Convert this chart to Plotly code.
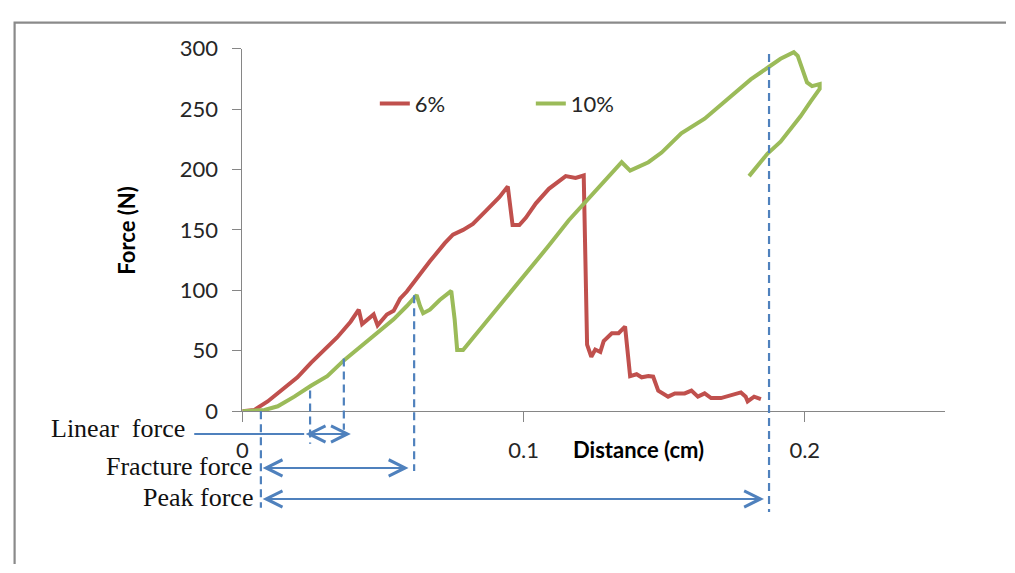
import plotly.graph_objects as go

# ---------------- data ----------------
dist_6 = [0, 0.0043, 0.009, 0.015, 0.0196, 0.0244, 0.029, 0.0337, 0.0385, 0.0414,
          0.0426, 0.0443, 0.0467, 0.0481, 0.0514, 0.0538, 0.0561, 0.0585, 0.062, 0.0667,
          0.072, 0.0749, 0.0785, 0.082, 0.0867, 0.0914, 0.0944, 0.0955, 0.0961, 0.0985,
          0.1008, 0.1044, 0.109, 0.115, 0.1185, 0.1214, 0.1222, 0.1226, 0.1241, 0.1255,
          0.1273, 0.1285, 0.1314, 0.1338, 0.1361, 0.1379, 0.1402, 0.1420, 0.1444, 0.1461,
          0.1479, 0.1514, 0.1538, 0.1573, 0.1597, 0.1620, 0.1644, 0.1667, 0.1702, 0.1738,
          0.1773, 0.1790, 0.1797, 0.1820, 0.1844]
force_6 = [0, 1, 8, 19, 28, 40, 50, 61, 74, 84,
           72, 75, 80, 71, 80, 83, 93, 99, 110, 124,
           139, 146, 150, 155, 166, 177, 186, 168, 154, 154,
           160, 172, 184, 194.5, 193, 195, 100, 55, 45, 51,
           49, 58, 64.5, 64.5, 70, 29, 30.5, 28, 29, 28.5,
           17, 12, 14.7, 14.7, 17, 12, 14.7, 10.8, 10.8, 13.4,
           15.5, 12, 8, 12, 10]

dist_10 = [0, 0.0079, 0.0126, 0.0185, 0.0244, 0.0302, 0.0361, 0.042, 0.0479, 0.0538,
           0.0585, 0.062, 0.0632, 0.0643, 0.0667, 0.0702, 0.0743, 0.0755, 0.0764, 0.0785,
           0.082, 0.0867, 0.0914, 0.0973, 0.1032, 0.109, 0.1161, 0.1232, 0.1303, 0.1349,
           0.1379, 0.1444, 0.1491, 0.1561, 0.1644, 0.1714, 0.1808, 0.1873, 0.1914, 0.1961,
           0.1975, 0.2008, 0.2026, 0.2053, 0.2053, 0.2020, 0.1985, 0.1914, 0.1867, 0.1802]
force_10 = [0, 1, 4, 12, 21, 29, 42, 53, 64.5, 76,
            87, 96, 87, 81, 84, 92, 99.5, 76, 50.6, 50.6,
            60.6, 74, 87, 103, 120, 137, 158, 176, 194.5, 206,
            199, 206, 214, 230, 242, 256, 274.5, 285, 291.6, 297,
            294, 272, 269, 270.6, 266.7, 256, 244, 223, 213, 194.5]

series_names = ["6%", "10%"]
x_ticks = [0, 0.1, 0.2]
y_ticks = [0, 50, 100, 150, 200, 250, 300]

# dashed guide lines (distance, top force, bottom force)
guide_x = [0.0066, 0.0241, 0.0361, 0.0611, 0.1873]
guide_top = [0, 17, 43.5, 96, 295.5]
guide_bottom = [-80, -27, -15.5, -49.6, -83.5]

# arrow annotations (label, label x, label y, arrow start, arrow end, arrow level)
labels = ["Linear\u00a0 force", "Fracture force", "Peak force"]
label_x = [-0.0195, 0.0045, 0.0045]
label_y = [-14.2, -45.5, -71.7]
arrow_from = [0.0220, 0.0067, 0.0067]
arrow_to = [0.0386, 0.0591, 0.1855]
arrow_level = [-18.9, -47.0, -72.7]
lead_from = -0.0171   # plain lead-in line for the "Linear force" arrow

# ---------------- layout geometry ----------------
# the page keeps the browser's default 8px body margin, so the figure is
# sized to fit the window exactly and all screen positions are offset by OFF
OFF = 8
SW, SH = 1015, 573                 # window size
W, H = SW - 2 * OFF - 1, SH - 2 * OFF - 1


def fx(px):                        # screen x pixel -> paper fraction
    return (px - OFF) / W


def fy(py):                        # screen y pixel -> paper fraction
    return 1 - (py - OFF) / H


PX0, PX1 = 237.7, 945.0     # screen pixels of x = 0 and x = 0.25
PY0, PY1 = 417.0, 36.0      # screen pixels of y = 0 and y = 300
XR, YR = [0, 0.25], [0, 300]
sx = (PX1 - PX0) / (XR[1] - XR[0])
sy = (PY0 - PY1) / (YR[1] - YR[0])
x2_range = [-(PX0 - OFF) / sx, (W + OFF - PX0) / sx]
y2_range = [-(H + OFF - PY0) / sy, (PY0 - OFF) / sy]

RED, GREEN, BLUE, GREY = "#c0504d", "#9bbb59", "#4f81bd", "#868686"
TXT = "#262626"
SANS = "Lato, 'Open Sans', sans-serif"
SERIF = "'Liberation Serif', 'Times New Roman', serif"

fig = go.Figure()
for name, xs, ys, col in [(series_names[0], dist_6, force_6, RED),
                          (series_names[1], dist_10, force_10, GREEN)]:
    fig.add_trace(go.Scatter(x=xs, y=ys, mode="lines", name=name,
                             line=dict(color=col, width=4),
                             xaxis="x", yaxis="y", hoverinfo="skip"))

shapes = []
for gx, gt, gb in zip(guide_x, guide_top, guide_bottom):
    shapes.append(dict(type="line", xref="x2", yref="y2", x0=gx, x1=gx, y0=gt, y1=gb,
                       line=dict(color=BLUE, width=2.2, dash="8px,5px")))
shapes.append(dict(type="line", xref="x2", yref="y2", x0=lead_from, x1=arrow_from[0],
                   y0=arrow_level[0], y1=arrow_level[0], line=dict(color=BLUE, width=2)))
# outer frame (left and top edges visible)
shapes.append(dict(type="rect", xref="paper", yref="paper", x0=0.6 / W, x1=1.05,
                   y0=-0.05, y1=1 - 0.6 / H, line=dict(color="#8a8a8a", width=2.2),
                   fillcolor="rgba(0,0,0,0)"))

annotations = []
for a0, a1, lv in zip(arrow_from, arrow_to, arrow_level):
    annotations.append(dict(xref="x2", yref="y2", axref="x2", ayref="y2",
                            x=a1, y=lv, ax=a0, ay=lv, text="", showarrow=True,
                            arrowside="end+start", arrowhead=5, startarrowhead=5,
                            arrowsize=1.6, startarrowsize=1.6, arrowwidth=2,
                            arrowcolor=BLUE, standoff=0, startstandoff=0))
for t, lx, ly in zip(labels, label_x, label_y):
    annotations.append(dict(xref="x2", yref="y2", x=lx, y=ly, text=t, showarrow=False,
                            xanchor="right", yanchor="middle",
                            font=dict(family=SERIF, size=26, color="#111111")))
annotations.append(dict(xref="paper", yref="paper", x=fx(121), y=fy(227),
                        text="<b>Force (N)</b>", textangle=-90, showarrow=False,
                        xanchor="center", yanchor="middle",
                        font=dict(family=SANS, size=22, color="#000000")))
annotations.append(dict(xref="paper", yref="paper", x=fx(636), y=fy(457),
                        text="<b>Distance (cm)</b>", showarrow=False,
                        xanchor="center", yanchor="middle",
                        font=dict(family=SANS, size=22, color="#000000")))

fig.update_layout(
    width=W, height=H, autosize=False,
    margin=dict(l=0, r=0, t=0, b=0),
    paper_bgcolor="white", plot_bgcolor="rgba(0,0,0,0)",
    font=dict(family=SANS, size=22, color=TXT),
    showlegend=True,
    legend=dict(orientation="h", x=fx(371), y=fy(94), xanchor="left", yanchor="middle",
                bgcolor="rgba(0,0,0,0)", font=dict(family=SANS, size=22, color=TXT),
                entrywidth=111, itemwidth=30),
    xaxis=dict(domain=[fx(PX0), fx(PX1)], anchor="y", range=XR, tickvals=x_ticks,
               showline=True, linecolor=GREY, linewidth=1, ticks="outside", ticklen=10,
               tickcolor=GREY, tickwidth=1, showgrid=False, zeroline=False,
               ticklabelstandoff=9, tickfont=dict(family=SANS, size=22, color=TXT)),
    yaxis=dict(domain=[fy(PY0), fy(PY1)], anchor="x", range=YR, tickvals=y_ticks,
               showline=True, linecolor=GREY, linewidth=1, ticks="outside", ticklen=9,
               tickcolor=GREY, tickwidth=1, showgrid=False, zeroline=False,
               ticklabelstandoff=10, tickfont=dict(family=SANS, size=22, color=TXT)),
    xaxis2=dict(domain=[0, 1], anchor="y2", range=x2_range, visible=False, fixedrange=True),
    yaxis2=dict(domain=[0, 1], anchor="x2", range=y2_range, visible=False, fixedrange=True),
    shapes=shapes, annotations=annotations,
)

fig.write_html("out.html", config={"displayModeBar": False})
